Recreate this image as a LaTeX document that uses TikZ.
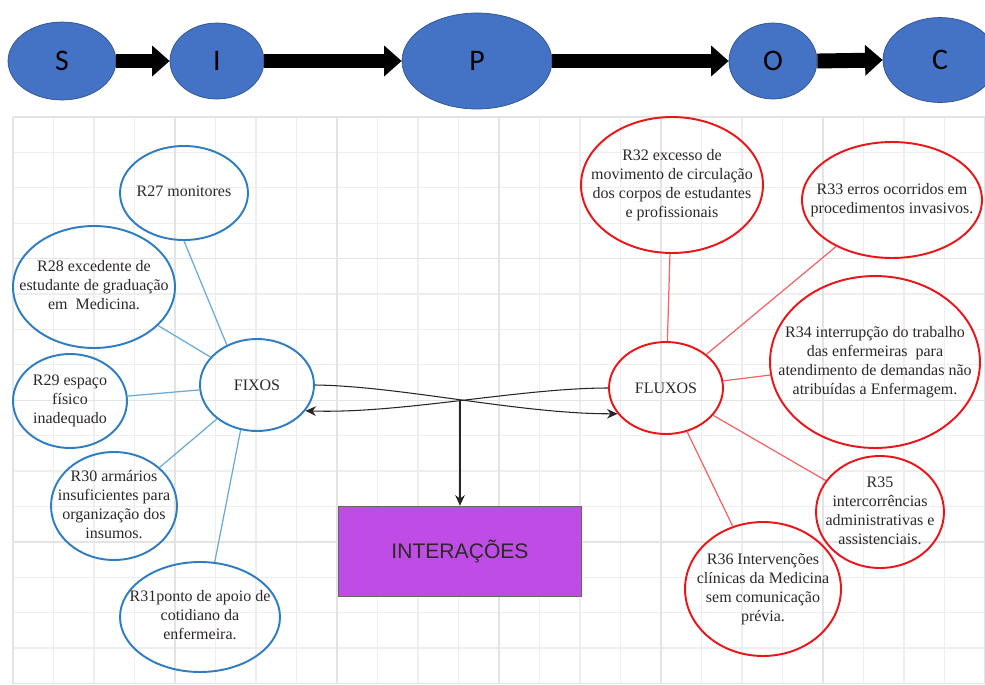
\documentclass[tikz,border=0pt]{standalone}
\usepackage{fontspec}
\setmainfont{Liberation Serif}
\newfontfamily\sipocfont{Carlito}
\newfontfamily\boxfont{Liberation Sans}
\usepackage{tikz}
\usetikzlibrary{arrows.meta, shapes.geometric}
\usepackage{xcolor}
\definecolor{sipocblue}{RGB}{68,114,196}
\definecolor{sipocedge}{RGB}{47,82,143}
\definecolor{fixoblue}{RGB}{46,125,195}
\definecolor{fixolink}{RGB}{105,170,220}
\definecolor{fluxored}{RGB}{235,20,25}
\definecolor{fluxolink}{RGB}{242,100,100}
\definecolor{interviolet}{RGB}{191,76,228}
\definecolor{gridgray}{RGB}{238,238,238}
\definecolor{gridmajor}{RGB}{228,228,228}
\definecolor{inktext}{RGB}{45,40,40}
\newcommand{\elltxt}[1]{\makebox[0pt]{\begin{tabular}{@{}c@{}}#1\end{tabular}}}

\begin{document}
\begin{tikzpicture}[x=0.02cm, y=-0.02cm,
			sipoc/.style={ellipse, draw=sipocedge, fill=sipocblue, inner sep=0pt, font=\sipocfont\fontsize{17}{19}\selectfont},
			chev/.style={line width=8.5pt, -{Triangle[length=10pt, width=17pt]}},
			fixo/.style={ellipse, draw=fixoblue, line width=1.1pt, inner sep=0pt, text=inktext, font=\fontsize{9.1}{10.8}\selectfont},
			fluxo/.style={fixo, draw=fluxored},
			fixolk/.style={draw=fixolink, line width=0.7pt},
			fluxolk/.style={draw=fluxolink, line width=0.7pt},
			cruza/.style={draw=black!85, line width=0.6pt, -{Stealth[length=6pt, width=5.5pt]}}
		]
		\useasboundingbox (0,0) rectangle (985,684);
		\fill[white] (0,0) rectangle (985,684);
		\foreach \i in {0,...,24} \draw[gridgray, line width=0.7pt] ({13+40.5*\i},117) -- ({13+40.5*\i},684);
		\foreach \j in {0,...,16} \draw[gridgray, line width=0.7pt] (13,{117+35.4*\j}) -- (985,{117+35.4*\j});
		\foreach \i in {0,4,...,24} \draw[gridmajor, line width=0.8pt] ({13+40.5*\i},117) -- ({13+40.5*\i},684);
		\foreach \j in {0,4,...,16} \draw[gridmajor, line width=0.8pt] (13,{117+35.4*\j}) -- (985,{117+35.4*\j});

		\node[sipoc, minimum width=2.16cm, minimum height=1.56cm] (S) at (62,61) {S};
		\node[sipoc, minimum width=1.88cm, minimum height=1.52cm] (I) at (217,61) {I};
		\node[sipoc, minimum width=3.0cm, minimum height=1.92cm] (P) at (477,61) {P};
		\node[sipoc, minimum width=1.76cm, minimum height=1.52cm] (O) at (773,61) {O};
		\node[sipoc, minimum width=2.28cm, minimum height=1.7cm] (C) at (940,60) {C};
		\draw[chev] (S) -- (I);
		\draw[chev] (I) -- (P);
		\draw[chev] (P) -- (O);
		\draw[chev] (O.east) -- (C.west);

		\node[fixo, minimum width=2.28cm, minimum height=1.84cm] (fixos) at (257,385) {FIXOS};
		\node[fixo, minimum width=2.56cm, minimum height=1.88cm] (r27) at (184,193) {\elltxt{R27 monitores}};
		\node[fixo, minimum width=3.24cm, minimum height=2.44cm] (r28) at (94,287) {\elltxt{R28 excedente de\\estudante de graduação\\em\ \ Medicina.}};
		\node[fixo, minimum width=2.28cm, minimum height=1.88cm] (r29) at (70,401) {\elltxt{R29 espaço\\físico\\inadequado}};
		\node[fixo, minimum width=2.52cm, minimum height=2.16cm] (r30) at (114,506) {\elltxt{R30 armários\\insuficientes para\\organização dos\\insumos.}};
		\node[fixo, minimum width=3.2cm, minimum height=2.2cm] (r31) at (200,617) {\elltxt{R31ponto de apoio de\\cotidiano da\\enfermeira.}};
		\draw[fixolk] (r27.south) -- (fixos.127);
		\draw[fixolk] (r28) -- (fixos);
		\draw[fixolk] (r29) -- (fixos);
		\draw[fixolk] (r30) -- (fixos);
		\draw[fixolk] (r31.75) -- (fixos.250);

		\node[fluxo, minimum width=2.28cm, minimum height=1.84cm] (fluxos) at (666,388) {FLUXOS};
		\node[fluxo, minimum width=3.64cm, minimum height=2.72cm] (r32) at (672,185) {\elltxt{R32 excesso de\\movimento de circulação\\dos corpos de estudantes\\e profissionais}};
		\node[fluxo, minimum width=3.6cm, minimum height=2.32cm] (r33) at (892,200) {\elltxt{R33 erros ocorridos em\\procedimentos invasivos.}};
		\node[fluxo, minimum width=4.2cm, minimum height=3.44cm] (r34) at (875,362) {\elltxt{R34 interrupção do trabalho\\das enfermeiras\ \ para\\atendimento de demandas não\\atribuídas a Enfermagem.}};
		\node[fluxo, minimum width=2.56cm, minimum height=2.24cm] (r35) at (880,512) {\elltxt{R35\\intercorrências\\administrativas e\\assistenciais.}};
		\node[fluxo, minimum width=3.12cm, minimum height=2.68cm] (r36) at (763,589) {\elltxt{R36 Intervenções\\clínicas da Medicina\\sem comunicação\\prévia.}};
		\draw[fluxolk] (r32) -- (fluxos);
		\draw[fluxolk] (r33) -- (fluxos);
		\draw[fluxolk] (r34) -- (fluxos);
		\draw[fluxolk] (r35) -- (fluxos);
		\draw[fluxolk] (r36) -- (fluxos);

		\node[draw=black!60, fill=interviolet, minimum width=4.86cm, minimum height=1.8cm, text=inktext, font=\boxfont\fontsize{12}{14}\selectfont] (inter) at (460,551) {INTERAÇÕES};
		\coordinate (cruz) at (460,400);
		\draw[cruza] (fixos.east) .. controls (400,386) and (520,414) .. (fluxos.208);
		\draw[cruza] (fluxos.west) .. controls (520,388) and (400,414) .. (fixos.-28);
		\draw[cruza] (cruz) -- (inter.north);
	\end{tikzpicture}
\end{document}
